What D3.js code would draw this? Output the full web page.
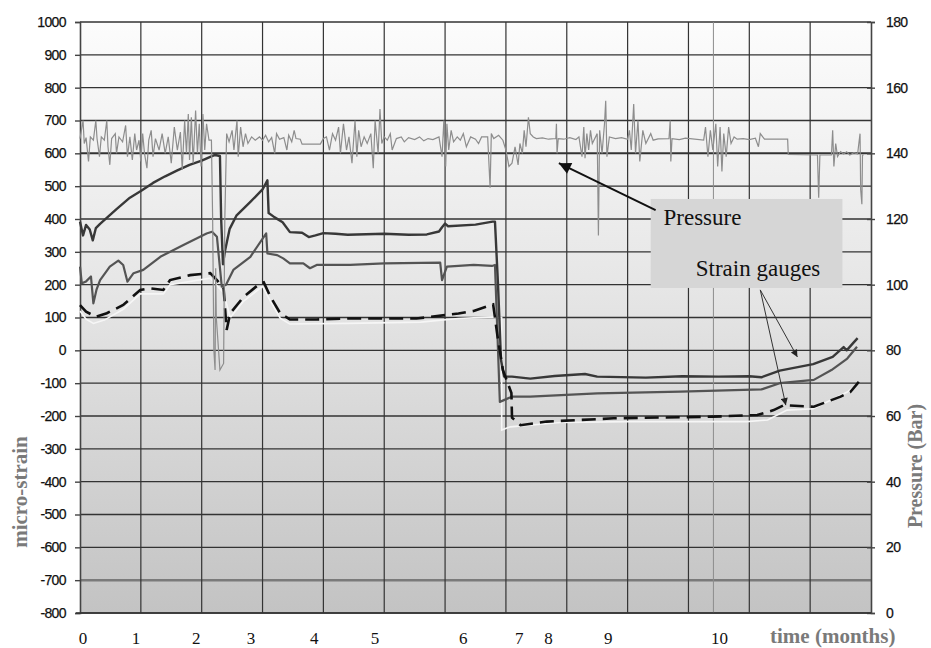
<!DOCTYPE html>
<html>
<head>
<meta charset="utf-8">
<script src="https://cdn.jsdelivr.net/npm/d3@7/dist/d3.min.js"></script>
<style>
body { margin: 0; background: #fff; }
</style>
</head>
<body>
<div id="chart"></div>
<script>

// time axis: the plot has 13 equal grid columns, month marks were put by hand
var monthLabels = ["0", "1", "2", "3", "4", "5", "6", "7", "8", "9", "10"];
var monthPos = [0.05, 0.92, 1.91, 2.81, 3.85, 4.85, 6.3, 7.22, 7.7, 8.68, 10.51];

var strainTicks = [-800, -700, -600, -500, -400, -300, -200, -100, 0, 100, 200, 300, 400, 500, 600, 700, 800, 900, 1000];
var pressureTicks = [0, 20, 40, 60, 80, 100, 120, 140, 160, 180];

// pressure, [t, bar]
var pressure = [
  [0,144.5],[0.05,150],[0.07,143],[0.1,144.8],[0.14,137.5],[0.17,145],[0.22,144],[0.26,150],[0.28,144.5],[0.32,139],
  [0.35,145],[0.4,144],[0.44,150],[0.46,142],[0.49,136.5],[0.52,144.5],[0.58,146],[0.6,140],[0.64,145],[0.7,143.5],
  [0.75,148.5],[0.78,139],[0.82,145],[0.86,138],[0.9,146],[0.93,141],[0.97,144],[1.0,137.5],[1.03,146],[1.06,140],
  [1.1,135.5],[1.13,144],[1.17,147],[1.2,139],[1.24,144.5],[1.3,141],[1.35,146],[1.4,140],[1.45,145],[1.5,137],
  [1.55,148],[1.6,141],[1.65,146.5],[1.68,135],[1.72,150],[1.75,140],[1.78,152],[1.8,138],[1.83,151],[1.86,137],
  [1.9,153],[1.93,140],[1.96,149],[1.99,136],[2.02,152],[2.05,141],[2.08,149],[2.12,144],[2.16,144],[2.18,120],
  [2.2,80],[2.22,74],[2.23,105],[2.24,90],[2.3,74],[2.36,76],[2.38,120],[2.41,146],[2.45,143.5],[2.5,147],
  [2.53,141],[2.58,150],[2.6,139],[2.64,148],[2.68,142],[2.72,146],[2.76,143],[2.82,145],[2.88,144],[2.95,145],
  [3.0,144],[3.05,145.5],[3.1,143.5],[3.15,144.8],[3.2,140],[3.23,146],[3.28,144.3],[3.35,144.8],[3.4,141],[3.43,145.5],
  [3.48,143.5],[3.52,147],[3.55,144.5],[3.62,144.3],[3.65,142.8],[3.95,142.8],[4.0,144.5],[4.05,145],[4.1,141],[4.15,146],
  [4.2,144],[4.25,148],[4.28,140],[4.33,149],[4.38,141],[4.42,145],[4.47,137],[4.52,150],[4.55,139],[4.58,147],
  [4.62,142],[4.67,145],[4.72,143],[4.78,146],[4.82,135.5],[4.85,150],[4.9,140],[4.93,153.5],[4.96,143],[5.0,145],
  [5.05,144],[5.1,146],[5.13,141],[5.2,144.5],[5.28,145],[5.33,143.5],[5.4,144.8],[5.5,144.2],[5.58,145],[5.65,143.8],
  [5.72,144.5],[5.8,144.2],[5.9,145],[5.95,139],[5.98,150],[6.01,136],[6.03,149],[6.06,141],[6.1,147],[6.14,143.5],
  [6.2,145],[6.25,144],[6.3,146],[6.35,142],[6.42,145],[6.5,144.3],[6.55,143],[6.6,145],[6.7,145],[6.74,129.5],
  [6.76,146],[6.8,144.5],[6.88,145.5],[6.95,144],[7.0,141],[7.05,136],[7.1,137],[7.15,142],[7.2,136.5],[7.23,143],
  [7.27,140],[7.3,147],[7.33,142],[7.37,151],[7.4,146],[7.45,145],[7.5,144.5],[7.6,144.7],[7.7,144.3],[7.82,144.5],
  [7.83,149],[7.84,140],[7.86,144.5],[7.95,144.3],[8.05,144.8],[8.15,144.2],[8.2,145],[8.25,139],[8.28,148],[8.3,138.5],
  [8.33,146],[8.36,141],[8.39,147],[8.42,143],[8.5,146],[8.52,115],[8.54,147],[8.58,140],[8.62,149],[8.64,156],
  [8.66,139],[8.7,145],[8.8,144.5],[8.9,144.8],[9.0,144.3],[9.03,147],[9.06,141],[9.1,155],[9.13,140],[9.17,150],
  [9.2,137.5],[9.25,147],[9.3,143],[9.38,146],[9.42,144],[9.5,144.4],[9.68,144.5],[9.7,150],[9.71,137.5],[9.73,144.5],
  [9.85,144.2],[9.95,144.6],[10.25,144],[10.28,148],[10.32,139],[10.36,147],[10.4,141],[10.45,149],[10.48,136],[10.52,148],
  [10.55,134.5],[10.58,146],[10.62,139],[10.66,148],[10.7,143],[10.75,145],[10.8,144.3],[10.9,144.5],[11.0,144.2],[11.1,144.6],
  [11.15,142],[11.18,146],[11.25,144.3],[11.5,144.3],[11.63,144.3],[11.64,139.7],[12.1,139.5],[12.12,139.5],[12.14,126.5],[12.16,139.5],
  [12.35,139.5],[12.37,147],[12.39,136],[12.42,143],[12.45,139],[12.5,140.5],[12.55,139.8],[12.6,140.5],[12.65,139.5],[12.72,140.2],
  [12.78,139.8],[12.8,143],[12.82,146],[12.83,129],[12.85,124.5],[12.86,139.5],[12.88,139.5]
];

// strain gauges, [t, micro-strain]
var gauge1 = [
  [0,392],[0.05,350],[0.1,382],[0.16,368],[0.21,335],[0.26,372],[0.33,385],[0.6,430],[0.82,465],[1.0,485],
  [1.2,510],[1.4,530],[1.6,548],[1.8,565],[2.0,578],[2.15,590],[2.22,595],[2.3,592],[2.32,400],[2.35,262],
  [2.38,300],[2.46,370],[2.57,410],[2.8,452],[3.0,490],[3.08,518],[3.1,418],[3.2,405],[3.33,390],[3.45,360],
  [3.65,358],[3.76,345],[3.87,350],[4.0,357],[4.2,355],[4.4,352],[5.0,355],[5.4,352],[5.7,353],[5.9,362],
  [5.95,375],[6.0,386],[6.05,378],[6.5,383],[6.78,392],[6.82,392],[6.87,200],[6.92,-30],[6.97,-80],[7.1,-80],
  [7.4,-86],[7.8,-78],[8.3,-72],[8.5,-80],[9.3,-83],[9.9,-79],[10.5,-80],[11.0,-79],[11.2,-82],[11.5,-62],
  [12.05,-42],[12.37,-20],[12.55,10],[12.6,0],[12.72,25],[12.78,37]
];

var gauge2 = [
  [0,255],[0.03,204],[0.1,210],[0.18,225],[0.22,143],[0.27,184],[0.33,214],[0.49,255],[0.63,273],[0.71,260],
  [0.78,209],[0.88,235],[1.04,245],[1.32,285],[1.7,321],[2.08,356],[2.17,361],[2.25,346],[2.33,194],[2.4,200],
  [2.52,245],[2.8,285],[3.06,356],[3.08,295],[3.24,290],[3.34,280],[3.45,265],[3.67,265],[3.78,250],[3.89,260],
  [4.44,260],[5.0,265],[5.92,267],[5.95,214],[6.03,255],[6.47,260],[6.77,257],[6.82,260],[6.87,0],[6.9,-157],
  [7.1,-141],[7.4,-141],[8.5,-131],[9.87,-126],[11.2,-119],[11.5,-100],[12.06,-90],[12.35,-60],[12.61,-25],[12.77,11]
];

var gauge3 = [
  [0,138],[0.1,118],[0.26,102],[0.44,113],[0.71,138],[0.99,184],[1.15,189],[1.37,184],[1.48,214],[1.81,229],
  [2.14,235],[2.25,214],[2.36,189],[2.41,62],[2.47,113],[2.69,163],[2.96,204],[3.02,207],[3.13,163],[3.29,113],
  [3.45,94],[3.89,94],[4.44,97],[5.0,97],[5.53,97],[6.22,112],[6.47,120],[6.79,140],[6.86,45],[6.95,-60],
  [7.09,-130],[7.1,-205],[7.24,-228],[7.67,-217],[8.77,-207],[10.4,-202],[11.13,-197],[11.4,-182],[11.57,-167],[12.06,-172],
  [12.5,-141],[12.66,-127],[12.8,-96]
];

// pale trace running just under the dashed gauge
var gauge4 = [
  [0,120],[0.1,95],[0.22,82],[0.4,92],[0.71,125],[0.99,172],[1.37,172],[1.48,200],[2.14,220],[2.36,175],
  [2.47,100],[2.69,150],[3.0,195],[3.13,150],[3.29,98],[3.45,80],[4.4,82],[5.6,86],[6.22,97],[6.8,102],
  [6.93,100],[6.93,-243],[7.07,-233],[7.9,-220],[9,-217],[10.96,-217],[11.3,-212],[11.62,-182],[12.05,-178],[12.61,-127],
  [12.8,-100]
];

var extraGrid = [10.41];

var margin = {top: 22, right: 60, bottom: 35, left: 80},
    width = 931 - margin.left - margin.right,
    height = 648 - margin.top - margin.bottom;

var svg = d3.select("#chart")
  .append("svg")
    .attr("width", 931)
    .attr("height", 648)
  .append("g")
    .attr("transform", "translate(" + margin.left + "," + margin.top + ")");

var x = d3.scaleLinear().domain([0, 13]).range([0, width]);
var yL = d3.scaleLinear().domain([-800, 1000]).range([height, 0]);
var yR = d3.scaleLinear().domain([0, 180]).range([height, 0]);

// plot background
var grad = svg.append("defs").append("linearGradient")
  .attr("id", "bg").attr("x1", 0).attr("y1", 0).attr("x2", 0).attr("y2", 1);
grad.append("stop").attr("offset", "0%").attr("stop-color", "#fcfcfc");
grad.append("stop").attr("offset", "45%").attr("stop-color", "#e6e6e6");
grad.append("stop").attr("offset", "100%").attr("stop-color", "#c3c3c3");

svg.append("rect")
  .attr("width", width).attr("height", height)
  .attr("fill", "url(#bg)");

// grid
svg.append("g")
  .selectAll("line")
  .data(strainTicks)
  .enter().append("line")
    .attr("x1", 0).attr("x2", width)
    .attr("y1", function(d) { return yL(d); })
    .attr("y2", function(d) { return yL(d); })
    .attr("stroke", function(d) { return d == -700 ? "#7a7a7a" : "#333"; })
    .attr("stroke-width", function(d) { return d == -700 ? 2.5 : (d == 600 ? 2 : 1.3); });

svg.append("g")
  .selectAll("line")
  .data(d3.range(1, 13))
  .enter().append("line")
    .attr("x1", function(d) { return x(d); })
    .attr("x2", function(d) { return x(d); })
    .attr("y1", 0).attr("y2", height)
    .attr("stroke", "#333")
    .attr("stroke-width", 1.2);

svg.append("g")
  .selectAll("line")
  .data(extraGrid)
  .enter().append("line")
    .attr("x1", function(d) { return x(d); })
    .attr("x2", function(d) { return x(d); })
    .attr("y1", 0).attr("y2", height)
    .attr("stroke", "#8c8c8c")
    .attr("stroke-width", 1);

// axes, plain hyphen minus and no thousands comma like the original
var plain = function(d) { return String(d); };
var leftAxis = svg.append("g")
  .call(d3.axisLeft(yL).tickValues(strainTicks).tickFormat(plain).tickSize(5).tickPadding(9));
var rightAxis = svg.append("g")
  .attr("transform", "translate(" + width + ",0)")
  .call(d3.axisRight(yR).tickValues(pressureTicks).tickFormat(plain).tickSize(4).tickPadding(11));
svg.append("line")
  .attr("x1", -4).attr("x2", width).attr("y1", height).attr("y2", height)
  .attr("stroke", "#333").attr("stroke-width", 1.6);

[leftAxis, rightAxis].forEach(function(a) {
  a.select(".domain").attr("stroke", "#444").attr("stroke-width", 1.6);
  a.selectAll(".tick line").attr("stroke", "#444").attr("stroke-width", 1.4);
  a.selectAll("text")
    .attr("font-family", "'Liberation Sans', Arial, sans-serif")
    .attr("font-size", 14)
    .attr("letter-spacing", -0.6)
    .attr("stroke", "#111").attr("stroke-width", 0.25)
    .attr("fill", "#111");
});
rightAxis.selectAll(".tick line").attr("x1", -4);

// month labels
svg.append("g")
  .selectAll("text")
  .data(monthLabels)
  .enter().append("text")
    .attr("x", function(d, i) { return x(monthPos[i]); })
    .attr("y", height + 31)
    .attr("text-anchor", "middle")
    .attr("font-family", "'Liberation Serif', 'Times New Roman', serif")
    .attr("font-size", 17)
    .attr("fill", "#111")
    .text(function(d) { return d; });

// series
var lineL = d3.line()
  .x(function(d) { return x(d[0]); })
  .y(function(d) { return yL(d[1]); });
var lineR = d3.line()
  .x(function(d) { return x(d[0]); })
  .y(function(d) { return yR(d[1]); });

svg.append("path").datum(gauge4)
  .attr("d", lineL).attr("fill", "none")
  .attr("stroke", "#f6f6f6").attr("stroke-width", 1.6);

svg.append("path").datum(gauge2)
  .attr("d", lineL).attr("fill", "none")
  .attr("stroke", "#545454").attr("stroke-width", 2.2)
  .attr("stroke-linejoin", "round");

svg.append("path").datum(gauge1)
  .attr("d", lineL).attr("fill", "none")
  .attr("stroke", "#383838").attr("stroke-width", 2.4)
  .attr("stroke-linejoin", "round");

svg.append("path").datum(gauge3)
  .attr("d", lineL).attr("fill", "none")
  .attr("stroke", "#111").attr("stroke-width", 2.6)
  .attr("stroke-dasharray", "14,7");

svg.append("path").datum(pressure)
  .attr("d", lineR).attr("fill", "none")
  .attr("stroke", "#8d8d8d").attr("stroke-width", 1.2);

// annotation
var defs = svg.select("defs");
defs.append("marker")
  .attr("id", "headBig").attr("viewBox", "0 0 10 10")
  .attr("refX", 10).attr("refY", 5)
  .attr("markerWidth", 16).attr("markerHeight", 12)
  .attr("markerUnits", "userSpaceOnUse").attr("orient", "auto")
  .append("path").attr("d", "M0,0 L10,5 L0,10 z").attr("fill", "#111");
defs.append("marker")
  .attr("id", "headSmall").attr("viewBox", "0 0 10 10")
  .attr("refX", 10).attr("refY", 5)
  .attr("markerWidth", 10).attr("markerHeight", 7)
  .attr("markerUnits", "userSpaceOnUse").attr("orient", "auto")
  .append("path").attr("d", "M0,0 L10,5 L0,10 z").attr("fill", "#222");

svg.append("rect")
  .attr("x", x(9.38)).attr("y", yL(461))
  .attr("width", x(12.53) - x(9.38)).attr("height", yL(190) - yL(461))
  .attr("fill", "#d6d6d6");

svg.append("line")
  .attr("x1", x(9.46)).attr("y1", yL(427))
  .attr("x2", x(7.87)).attr("y2", yL(570))
  .attr("stroke", "#111").attr("stroke-width", 2)
  .attr("marker-end", "url(#headBig)");

[[11.79, -20], [11.6, -167]].forEach(function(p) {
  svg.append("line")
    .attr("x1", x(11.18)).attr("y1", yL(184))
    .attr("x2", x(p[0])).attr("y2", yL(p[1]))
    .attr("stroke", "#333").attr("stroke-width", 1)
    .attr("marker-end", "url(#headSmall)");
});

svg.append("text")
  .attr("x", x(9.59)).attr("y", yL(381))
  .attr("font-family", "'Liberation Serif', 'Times New Roman', serif")
  .attr("font-size", 23).attr("fill", "#111")
  .text("Pressure");
svg.append("text")
  .attr("x", x(10.12)).attr("y", yL(226))
  .attr("font-family", "'Liberation Serif', 'Times New Roman', serif")
  .attr("font-size", 23).attr("fill", "#111")
  .text("Strain gauges");

// axis titles
var root = d3.select("svg");
root.append("text")
  .attr("transform", "translate(27,492) rotate(-90)")
  .attr("text-anchor", "middle")
  .attr("font-family", "'Liberation Serif', 'Times New Roman', serif")
  .attr("font-weight", "bold").attr("font-size", 21)
  .attr("fill", "#7a7a7a")
  .text("micro-strain");
root.append("text")
  .attr("transform", "translate(922,466) rotate(-90)")
  .attr("text-anchor", "middle")
  .attr("font-family", "'Liberation Serif', 'Times New Roman', serif")
  .attr("font-weight", "bold").attr("font-size", 20)
  .attr("fill", "#7a7a7a")
  .text("Pressure (Bar)");
root.append("text")
  .attr("x", 770).attr("y", 643)
  .attr("font-family", "'Liberation Serif', 'Times New Roman', serif")
  .attr("font-weight", "bold").attr("font-size", 21)
  .attr("fill", "#7a7a7a")
  .text("time (months)");

</script>
</body>
</html>
